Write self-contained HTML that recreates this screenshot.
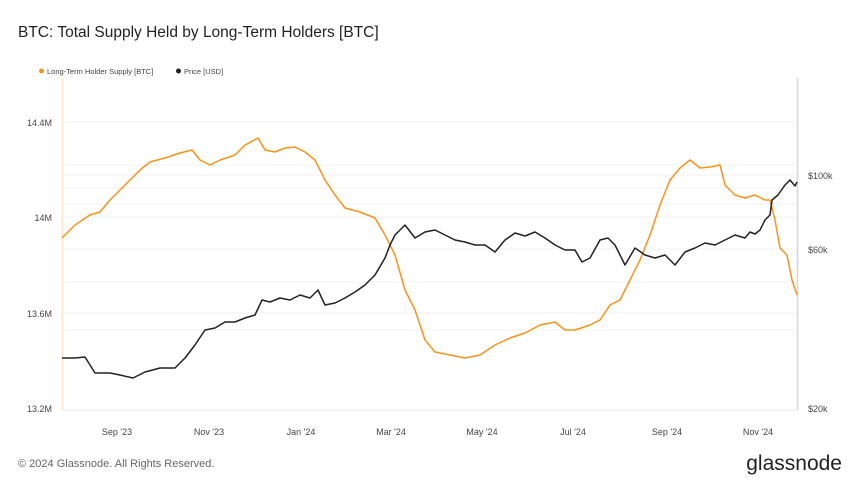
<!DOCTYPE html>
<html><head><meta charset="utf-8"><style>
body{margin:0;width:860px;height:484px;background:#fff;font-family:"Liberation Sans",sans-serif;overflow:hidden}
</style></head><body>
<svg width="860" height="484" viewBox="0 0 860 484" xmlns="http://www.w3.org/2000/svg" font-family="Liberation Sans, sans-serif">
<text x="18" y="37" font-size="15.5" fill="#222">BTC: Total Supply Held by Long-Term Holders [BTC]</text>
<circle cx="41.5" cy="71" r="2.5" fill="#f7931a"/>
<text x="47" y="74" font-size="7.5" fill="#444">Long-Term Holder Supply [BTC]</text>
<circle cx="178.5" cy="71" r="2.5" fill="#222"/>
<text x="184" y="74" font-size="7.5" fill="#444">Price [USD]</text>
<g stroke="#f0f0f0" stroke-width="1">
<line x1="62" x2="797" y1="122" y2="122"/><line x1="62" x2="797" y1="217" y2="217"/><line x1="62" x2="797" y1="313" y2="313"/>
<line x1="62" x2="797" y1="175" y2="175"/><line x1="62" x2="797" y1="249" y2="249"/><line x1="62" x2="797" y1="165" y2="165"/><line x1="62" x2="797" y1="188" y2="188"/><line x1="62" x2="797" y1="204" y2="204"/><line x1="62" x2="797" y1="282" y2="282"/><line x1="62" x2="797" y1="330" y2="330"/>
</g>
<line x1="62" x2="797" y1="410" y2="410" stroke="#e6e6e6"/>
<line x1="62.5" x2="62.5" y1="78" y2="410" stroke="#fde6cc" stroke-width="1.5"/>
<line x1="797.5" x2="797.5" y1="78" y2="410" stroke="#d6d6d6" stroke-width="1.5"/>
<g font-size="9" fill="#444" text-anchor="end">
<text x="52" y="126">14.4M</text><text x="52" y="221">14M</text><text x="52" y="317">13.6M</text><text x="52" y="412">13.2M</text>
</g>
<g font-size="9" fill="#444">
<text x="808" y="179">$100k</text><text x="808" y="253">$60k</text><text x="808" y="412">$20k</text>
</g>
<g font-size="9" fill="#444" text-anchor="middle">
<text x="117" y="435">Sep '23</text><text x="209" y="435">Nov '23</text><text x="301" y="435">Jan '24</text><text x="391" y="435">Mar '24</text><text x="482" y="435">May '24</text><text x="573" y="435">Jul '24</text><text x="667" y="435">Sep '24</text><text x="758" y="435">Nov '24</text>
</g>
<polyline fill="none" stroke="#f7931a" stroke-width="1.5" stroke-linejoin="round" points="62,238 75,225 90,215 100,212 110,200 125,185 140,170 150,162 165,158 180,153 192,150 200,160 210,165 220,160 235,155 245,145 258,138 265,150 275,152 285,148 295,147 305,152 315,160 325,180 335,195 345,208 360,212 375,218 385,235 395,255 405,290 415,310 425,340 435,352 450,355 465,358 480,355 495,345 510,338 525,333 540,325 555,322 565,330 575,330 590,325 600,320 610,305 620,300 630,280 640,260 650,235 660,205 670,180 680,168 690,160 700,168 710,167 720,165 725,185 735,195 745,198 755,195 765,200 770,200 775,220 780,248 787,255 792,280 797,295"/>
<polyline fill="none" stroke="#222" stroke-width="1.5" stroke-linejoin="round" points="62,358 75,358 85,357 95,373 110,373 120,375 133,378 145,372 160,368 175,368 185,358 195,345 205,330 215,328 225,322 235,322 245,318 255,315 262,300 270,302 280,298 290,300 300,295 310,298 318,290 325,305 335,303 345,298 355,292 365,285 375,275 385,258 390,245 395,235 405,225 415,238 425,232 435,230 445,235 455,240 465,242 475,245 485,245 495,252 505,240 515,233 525,236 535,232 545,238 555,245 565,250 575,250 582,262 590,258 600,240 608,238 615,245 625,265 635,248 645,255 655,258 665,255 675,265 685,252 695,248 705,243 715,245 725,240 735,235 745,238 750,232 755,234 760,230 765,220 770,215 772,200 778,195 785,185 790,180 795,186 797,182"/>
<text x="18" y="467" font-size="11" fill="#666">© 2024 Glassnode. All Rights Reserved.</text>
<text x="842" y="470" font-size="21" fill="#222" text-anchor="end">glassnode</text>
</svg>
</body></html>
